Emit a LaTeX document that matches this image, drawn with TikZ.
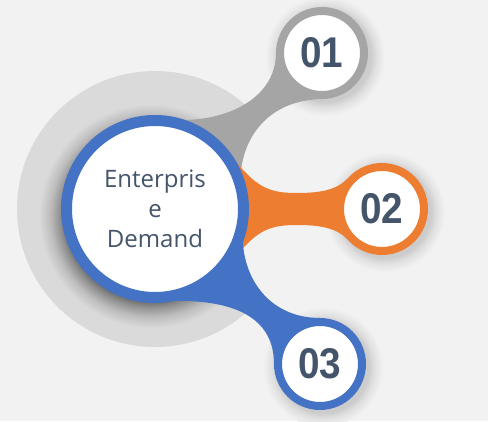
\documentclass[tikz,border=0pt]{standalone}
\usepackage{fontspec}
\setmainfont{Open Sans}
\newfontfamily\numfont[FakeStretch=0.9]{Liberation Sans}

\definecolor{bgc}{HTML}{F2F2F2}
\definecolor{haloc}{HTML}{DADADA}
\definecolor{bluec}{HTML}{4472C4}
\definecolor{orangec}{HTML}{ED7D31}
\definecolor{grayc}{HTML}{A5A5A5}
\definecolor{textc}{HTML}{44546A}

\pgfdeclareradialshading{hubshade}{\pgfpointorigin}{color(0bp)=(black!62); color(18.5bp)=(black!62);
  color(20.5bp)=(black!42); color(22.5bp)=(black!26); color(25bp)=(haloc); color(50bp)=(haloc)}
\pgfdeclareradialshading{leafshade}{\pgfpointorigin}{color(0bp)=(black!20); color(19bp)=(black!20);
  color(21.5bp)=(black!12); color(25bp)=(bgc); color(50bp)=(bgc)}

\pgfdeclarelayer{back}
\pgfdeclarelayer{links}
\pgfsetlayers{back,links,main}

\begin{document}
\begin{tikzpicture}[x=1pt,y=1pt,
  hub/.style={circle,fill=white,draw=bluec,line width=11pt,minimum size=177pt,inner sep=0pt,outer sep=5.5pt,
    align=center,text=textc,font=\fontsize{24}{30}\selectfont},
  leaf/.style={circle,fill=white,draw=#1,line width=8pt,minimum size=84pt,inner sep=0pt,outer sep=4pt,
    text=textc,font=\numfont\bfseries\fontsize{43}{43}\selectfont}]
\useasboundingbox (0,0) rectangle (488,421);

\node[hub] (core) at (155,212) {Enterpris\\e\\Demand};
\node[leaf=grayc] (n1) at (322,368) {01};
\node[leaf=orangec] (n2) at (382,212) {02};
\node[leaf=bluec] (n3) at (320,57) {03};

\begin{pgfonlayer}{back}
\fill[bgc] (0,0) rectangle (488,421);
\fill[haloc] (core.center) circle (138);
\shade[shading=hubshade] (core.center) ++(-4,-7) circle (112);
\fill[bgc] (core.24) .. controls (246,292) and (275,321) .. (n1.270) -- (n2.center)
  -- (n3.90) .. controls (275,103) and (246,135) .. (core.-21) -- cycle;
\foreach \n in {n1,n2,n3}
  \shade[shading=leafshade] (\n.center) ++(3,-3) circle (60);
\end{pgfonlayer}

\begin{pgfonlayer}{links}
\fill[grayc] (core.center) -- (core.71) .. controls (240,303) and (276,330) .. (n1.180) -- (n1.center)
  -- (n1.270) .. controls (275,321) and (246,292) .. (core.24) -- cycle;
\fill[orangec] (core.center) -- (core.30) .. controls (258,232) and (272,228) .. (297,228)
  .. controls (320,228) and (336,231) .. (n2.140) -- (n2.center) -- (n2.220)
  .. controls (336,193) and (320,196) .. (297,196) .. controls (272,196) and (258,192) .. (core.-30) -- cycle;
\fill[bluec] (core.center) -- (core.-21) .. controls (246,135) and (275,103) .. (n3.90) -- (n3.center)
  -- (n3.180) .. controls (274,100) and (240,121) .. (core.-78) -- cycle;
\end{pgfonlayer}
\end{tikzpicture}
\end{document}
